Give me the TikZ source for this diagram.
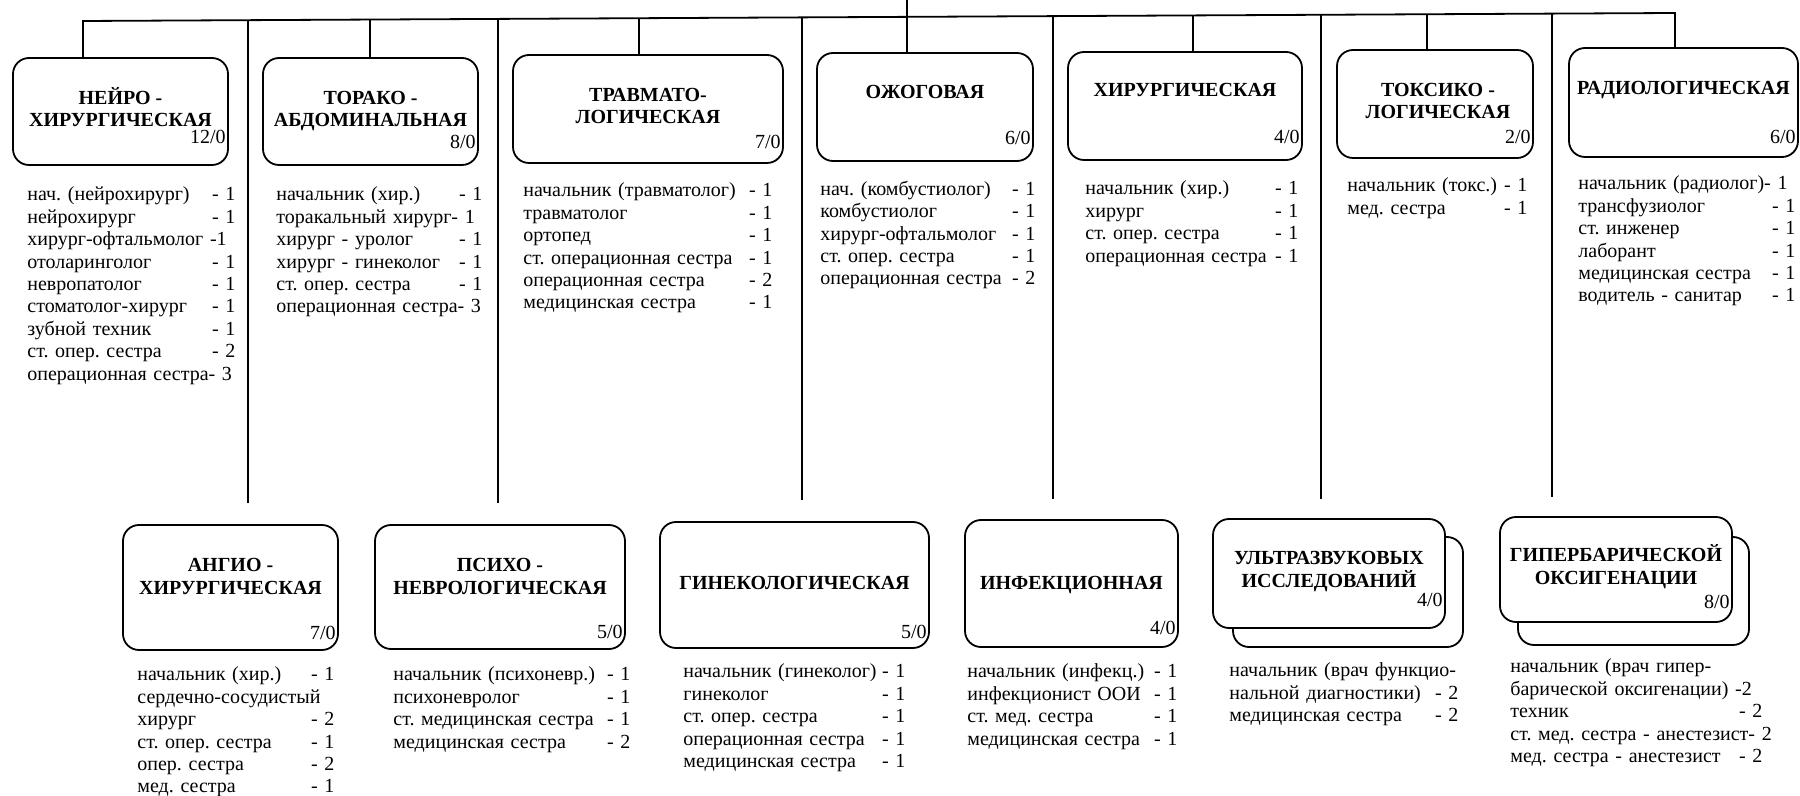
\documentclass[tikz,border=0pt]{standalone}
\usepackage{fontspec}
\setmainfont{Liberation Serif}
\setlength\parindent{0pt}
\frenchspacing
\begin{document}
\begin{tikzpicture}[x=0.5pt,y=-0.5pt,
  ln/.style={line width=0.9pt},
  box/.style={draw, line width=0.9pt, rounded corners=8pt, fill=white, inner sep=0pt},
  ttl/.style={anchor=base, inner sep=0pt, font=\fontsize{10}{11}\selectfont\bfseries},
  cnt/.style={anchor=base east, inner sep=0pt, font=\fontsize{10}{11}\selectfont},
  lst/.style={anchor=north west, inner sep=0pt, align=left, font=\fontsize{10}{11.2}\selectfont\frenchspacing}]
\useasboundingbox (0,0) rectangle (1800,796);

% top row boxes
\node[box,minimum width=107.5pt,minimum height=53.5pt] (n1) at (120.5,111.5) {};
\node[box,minimum width=107.5pt,minimum height=53.5pt] (n2) at (370.5,111.5) {};
\node[box,minimum width=135pt,minimum height=54pt] (n3) at (648,109) {};
\node[box,minimum width=108pt,minimum height=54pt] (n4) at (925,107) {};
\node[box,minimum width=117pt,minimum height=54pt] (n5) at (1185,106) {};
\node[box,minimum width=98pt,minimum height=54pt] (n6) at (1435,104) {};
\node[box,minimum width=114.5pt,minimum height=54.5pt] (n7) at (1683.5,102.5) {};

% bottom row boxes
\node[box,minimum width=107.5pt,minimum height=62.5pt] (n8) at (230.5,587.5) {};
\node[box,minimum width=125pt,minimum height=62pt] (n9) at (500,587) {};
\node[box,minimum width=134.5pt,minimum height=63pt] (n10) at (794.5,585) {};
\node[box,minimum width=106.5pt,minimum height=63.5pt] (n11) at (1071.5,583.5) {};
\node[box,minimum width=115pt,minimum height=55pt] (n12b) at (1348,592) {};
\node[box,minimum width=116pt,minimum height=54.5pt] (n12) at (1329,573.5) {};
\node[box,minimum width=115.5pt,minimum height=54pt] (n13b) at (1633.5,591) {};
\node[box,minimum width=116pt,minimum height=52.5pt] (n13) at (1616,569.5) {};

% bus and connectors
\coordinate (top) at (907,0);
\coordinate (b1) at (83,21);
\coordinate (b2) at (370,19.56);
\coordinate (b3) at (639,18.21);
\coordinate (b5) at (1193,15.42);
\coordinate (b6) at (1427,14.25);
\coordinate (b7) at (1675,13);
\draw[ln] (b1 |- n1.north) -- (b1) -- (b7) -- (b7 |- n7.north);
\draw[ln] (top) -- (top |- n4.north);
\draw[ln] (b2) -- (b2 |- n2.north);
\draw[ln] (b3) -- (b3 |- n3.north);
\draw[ln] (b5) -- (b5 |- n5.north);
\draw[ln] (b6) -- (b6 |- n6.north);

\coordinate (v1) at (248,20.17);  \coordinate (e1) at (248,503);
\coordinate (v2) at (498,18.91);  \coordinate (e2) at (498,503);
\coordinate (v3) at (802,17.39);  \coordinate (e3) at (802,500);
\coordinate (v4) at (1053,16.13); \coordinate (e4) at (1053,499);
\coordinate (v5) at (1321,14.78); \coordinate (e5) at (1321,499);
\coordinate (v6) at (1552,13.62); \coordinate (e6) at (1552,497);
\draw[ln] (v1) -- (e1);
\draw[ln] (v2) -- (e2);
\draw[ln] (v3) -- (e3);
\draw[ln] (v4) -- (e4);
\draw[ln] (v5) -- (e5);
\draw[ln] (v6) -- (e6);

% titles
\node[ttl] (t1a) at (120.5,104.6) {НЕЙРО -};
\node[ttl] (t1b) at (120.5,126.6) {ХИРУРГИЧЕСКАЯ};
\node[ttl] (t2a) at (370.5,104.6) {ТОРАКО -};
\node[ttl] (t2b) at (370.5,126.6) {АБДОМИНАЛЬНАЯ};
\node[ttl] (t3a) at (648,101.6) {ТРАВМАТО-};
\node[ttl] (t3b) at (648,123.6) {ЛОГИЧЕСКАЯ};
\node[ttl] (t4) at (925,98.6) {ОЖОГОВАЯ};
\node[ttl] (t5) at (1185,96.6) {ХИРУРГИЧЕСКАЯ};
\node[ttl] (t6a) at (1438,96.6) {ТОКСИКО -};
\node[ttl] (t6b) at (1438,118.6) {ЛОГИЧЕСКАЯ};
\node[ttl] (t7) at (1683.5,94.6) {РАДИОЛОГИЧЕСКАЯ};
\node[ttl] (t8a) at (230.5,571.6) {АНГИО -};
\node[ttl] (t8b) at (230.5,594.6) {ХИРУРГИЧЕСКАЯ};
\node[ttl] (t9a) at (500,571.6) {ПСИХО -};
\node[ttl] (t9b) at (500,594.6) {НЕВРОЛОГИЧЕСКАЯ};
\node[ttl] (t10) at (794.5,589.6) {ГИНЕКОЛОГИЧЕСКАЯ};
\node[ttl] (t11) at (1071.5,589.6) {ИНФЕКЦИОННАЯ};
\node[ttl] (t12a) at (1329,564.6) {УЛЬТРАЗВУКОВЫХ};
\node[ttl] (t12b) at (1329,587.6) {ИССЛЕДОВАНИЙ};
\node[ttl] (t13a) at (1616,561.6) {ГИПЕРБАРИЧЕСКОЙ};
\node[ttl] (t13b) at (1616,584.6) {ОКСИГЕНАЦИИ};

% counts
\node[cnt] (c1) at (226,143.6) {12/0};
\node[cnt] (c2) at (476,148.6) {8/0};
\node[cnt] (c3) at (781,148.6) {7/0};
\node[cnt] (c4) at (1031,144.6) {6/0};
\node[cnt] (c5) at (1300,143.6) {4/0};
\node[cnt] (c6) at (1531,143.6) {2/0};
\node[cnt] (c7) at (1796,143.6) {6/0};
\node[cnt] (c8) at (336,639.6) {7/0};
\node[cnt] (c9) at (623,638.6) {5/0};
\node[cnt] (c10) at (927,638.6) {5/0};
\node[cnt] (c11) at (1176,634.6) {4/0};
\node[cnt] (c12) at (1443,606.6) {4/0};
\node[cnt] (c13) at (1730,608.6) {8/0};

% staff lists
\node[lst,text width=104pt] (l1) at (27,184.8) {\strut нач. (нейрохирург)\hfill- 1\\
нейрохирург\hfill- 1\\
\mbox{хирург-офтальмолог -1}\\
отоларинголог\hfill- 1\\
невропатолог\hfill- 1\\
стоматолог-хирург\hfill- 1\\
зубной техник\hfill- 1\\
ст. опер. сестра\hfill- 2\\
\mbox{операционная сестра- 3}};

\node[lst,text width=103pt] (l2) at (276,184.8) {\strut начальник (хир.)\hfill- 1\\
\mbox{торакальный хирург- 1}\\
хирург - уролог\hfill- 1\\
хирург - гинеколог\hfill- 1\\
ст. опер. сестра\hfill- 1\\
\mbox{операционная сестра- 3}};

\node[lst,text width=124.5pt] (l3) at (523,180.8) {\strut начальник (травматолог)\hfill- 1\\
травматолог\hfill- 1\\
ортопед\hfill- 1\\
ст. операционная сестра\hfill- 1\\
операционная сестра\hfill- 2\\
медицинская сестра\hfill- 1};

\node[lst,text width=107.5pt] (l4) at (820,179.3) {\strut нач. (комбустиолог)\hfill- 1\\
комбустиолог\hfill- 1\\
хирург-офтальмолог\hfill- 1\\
ст. опер. сестра\hfill- 1\\
операционная сестра\hfill- 2};

\node[lst,text width=106.5pt] (l5) at (1085,178.8) {\strut начальник (хир.)\hfill- 1\\
хирург\hfill- 1\\
ст. опер. сестра\hfill- 1\\
операционная сестра\hfill- 1};

\node[lst,text width=90pt] (l6) at (1347,175.8) {\strut начальник (токс.)\hfill- 1\\
мед. сестра\hfill- 1};

\node[lst,text width=108.5pt] (l7) at (1578,173.8) {\strut \mbox{начальник (радиолог)- 1}\\
трансфузиолог\hfill- 1\\
ст. инженер\hfill- 1\\
лаборант\hfill- 1\\
медицинская сестра\hfill- 1\\
водитель - санитар\hfill- 1};

\node[lst,text width=98.5pt] (l8) at (137,664.8) {\strut начальник (хир.)\hfill- 1\\
\mbox{сердечно-сосудистый}\\
хирург\hfill- 2\\
ст. опер. сестра\hfill- 1\\
опер. сестра\hfill- 2\\
мед. сестра\hfill- 1};

\node[lst,text width=118.5pt] (l9) at (393,664.8) {\strut начальник (психоневр.)\hfill- 1\\
психоневролог\hfill- 1\\
ст. медицинская сестра\hfill- 1\\
медицинская сестра\hfill- 2};

\node[lst,text width=111pt] (l10) at (683,661.8) {\strut начальник (гинеколог)\hfill- 1\\
гинеколог\hfill- 1\\
ст. опер. сестра\hfill- 1\\
операционная сестра\hfill- 1\\
медицинская сестра\hfill- 1};

\node[lst,text width=105pt] (l11) at (967,661.8) {\strut начальник (инфекц.)\hfill- 1\\
инфекционист ООИ\hfill- 1\\
ст. мед. сестра\hfill- 1\\
медицинская сестра\hfill- 1};

\node[lst,text width=114.5pt] (l12) at (1229,660.8) {\strut \mbox{начальник (врач функцио-}\\
нальной диагностики)\hfill- 2\\
медицинская сестра\hfill- 2};

\node[lst,text width=126pt] (l13) at (1510,656.8) {\strut \mbox{начальник (врач гипер-}\\
\mbox{барической оксигенации) -2}\\
техник\hfill- 2\\
\mbox{ст. мед. сестра - анестезист- 2}\\
мед. сестра - анестезист\hfill- 2};
\end{tikzpicture}
\end{document}
